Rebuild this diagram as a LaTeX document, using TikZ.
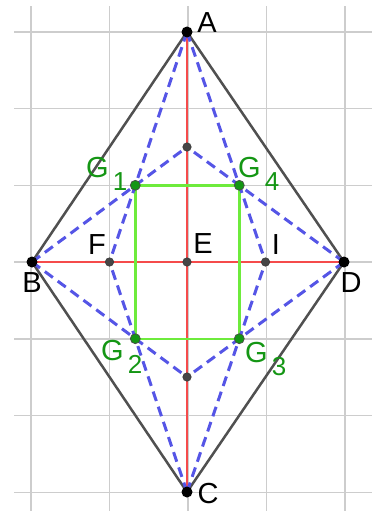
\documentclass[tikz,border=0pt]{standalone}
\usepackage{fontspec}
\setmainfont{Liberation Sans}
\begin{document}
\begin{tikzpicture}[x=1pt,y=-1pt,
  gridline/.style={draw=gridc,line width=1.4pt},
  side/.style={draw=rhomb,line width=2.5pt},
  axis/.style={draw=redl,line width=2pt},
  median/.style={draw=bluel,line width=3pt,dash pattern=on 10pt off 6pt},
  sq/.style={draw=greenl,line width=2.4pt},
  bigdot/.style={circle,fill=black,inner sep=0pt,minimum size=11pt},
  middot/.style={circle,fill=dotg,draw=black!80,line width=0.5pt,inner sep=0pt,minimum size=8.5pt},
  gdot/.style={circle,fill=gfill,draw=black!70,line width=0.7pt,inner sep=0pt,minimum size=10pt},
  lab/.style={inner sep=0pt,font=\fontsize{29}{29}\selectfont},
  glab/.style={inner sep=0pt,anchor=base west,text=glabc,font=\fontsize{29}{29}\selectfont}]
\definecolor{gridc}{RGB}{205,205,205}
\definecolor{rhomb}{RGB}{80,80,80}
\definecolor{redl}{RGB}{245,75,75}
\definecolor{bluel}{RGB}{85,85,230}
\definecolor{greenl}{RGB}{110,235,60}
\definecolor{dotg}{RGB}{70,70,70}
\definecolor{gfill}{RGB}{20,150,20}
\definecolor{glabc}{RGB}{20,150,20}
\newcommand{\gsub}[1]{G\hspace{4pt}\raisebox{-13pt}{\fontsize{26}{26}\selectfont #1}}
\useasboundingbox (0,0) rectangle (372,511);
% grid
\begin{scope}
  \clip (14,7) rectangle (372,511);
  \foreach \gx in {31,109.5,188,266.5,345} \draw[gridline] (\gx,0) -- (\gx,511);
  \foreach \gy in {32,108.7,185.3,262,338.8,415.5,492.3} \draw[gridline] (0,\gy) -- (372,\gy);
\end{scope}
% points
\coordinate (A) at (187,32);
\coordinate (B) at (32,262);
\coordinate (C) at (187,492);
\coordinate (D) at (344,262);
\coordinate (E) at (187,262);
\coordinate (F) at (109.5,262);
\coordinate (I) at (265.5,262);
\coordinate (M) at (187,147);
\coordinate (N) at (187,377);
\coordinate (G1) at (135.3,185.3);
\coordinate (G4) at (239.3,185.3);
\coordinate (G2) at (135.3,338.7);
\coordinate (G3) at (239.3,338.7);
% rhombus
\draw[side] (A) -- (B) -- (C) -- (D) -- cycle;
% diagonals
\draw[axis] (A) -- (C);
\draw[axis] (B) -- (D);
% square
\draw[sq] (G1) -- (G4) -- (G3) -- (G2) -- cycle;
% medians
\draw[median] (A) -- (F);
\draw[median] (A) -- (I);
\draw[median] (C) -- (F);
\draw[median] (C) -- (I);
\draw[median] (B) -- (M);
\draw[median] (D) -- (M);
\draw[median] (B) -- (N);
\draw[median] (D) -- (N);
% dots
\node[bigdot] (dA) at (A) {};
\node[bigdot] (dB) at (B) {};
\node[bigdot] (dC) at (C) {};
\node[bigdot] (dD) at (D) {};
\node[middot] (dE) at (E) {};
\node[middot] (dF) at (F) {};
\node[middot] (dI) at (I) {};
\node[middot] (dM) at (M) {};
\node[middot] (dN) at (N) {};
\node[gdot] (dG1) at (G1) {};
\node[gdot] (dG4) at (G4) {};
\node[gdot] (dG2) at (G2) {};
\node[gdot] (dG3) at (G3) {};
% labels
\node[lab] (lA) at (207,23) {A};
\node[lab] (lB) at (32,283) {B};
\node[lab] (lC) at (208,494) {C};
\node[lab] (lD) at (351,283) {D};
\node[lab] (lE) at (203,244) {E};
\node[lab] (lF) at (97,245) {F};
\node[lab] (lI) at (276,245) {I};
\node[glab] (lG1) at (86,177) {\gsub{1}};
\node[glab] (lG4) at (238,177) {\gsub{4}};
\node[glab] (lG2) at (101,360) {\gsub{2}};
\node[glab] (lG3) at (245,362) {\gsub{3}};
\end{tikzpicture}
\end{document}
